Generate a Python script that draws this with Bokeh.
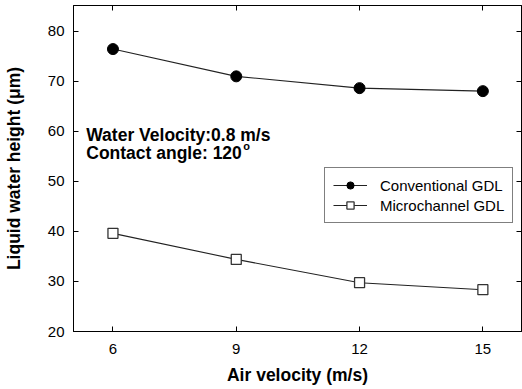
from bokeh.plotting import figure
from bokeh.models import LinearAxis, Range1d, Label, Legend, LegendItem, FixedTicker
from bokeh.embed import file_html
from bokeh.resources import INLINE

# ---- data ----
air_velocity = [6, 9, 12, 15]
conventional_gdl = [76.4, 70.95, 68.6, 68.0]
microchannel_gdl = [39.6, 34.4, 29.75, 28.35]
x_ticks = [6, 9, 12, 15]
y_ticks = [20, 30, 40, 50, 60, 70, 80]
series_names = ["Conventional GDL", "Microchannel GDL"]
note_lines = ["Water Velocity:0.8 m/s", "Contact angle: 120"]

FONT = "Liberation Sans"

p = figure(width=522, height=389, output_backend="svg", toolbar_location=None,
           x_range=Range1d(5.04, 15.94), y_range=Range1d(20, 85.1),
           min_border_left=72, min_border_right=1, min_border_top=5, min_border_bottom=58)
p.xgrid.visible = False
p.ygrid.visible = False
p.outline_line_color = "black"
p.background_fill_color = "white"

# bottom / left axes
for ax in (p.xaxis[0], p.yaxis[0]):
    ax.major_tick_in = 5
    ax.major_tick_out = 0
    ax.minor_tick_in = 0
    ax.minor_tick_out = 0
    ax.axis_line_color = "black"
    ax.major_tick_line_color = "black"
    ax.major_label_text_font = FONT
    ax.major_label_text_font_size = "15px"
    ax.major_label_text_color = "black"
    ax.axis_label_text_font = FONT
    ax.axis_label_text_font_size = "17.5px"
    ax.axis_label_text_font_style = "bold"
    ax.axis_label_text_color = "black"

p.xaxis[0].ticker = FixedTicker(ticks=x_ticks)
p.yaxis[0].ticker = FixedTicker(ticks=y_ticks)
p.xaxis[0].axis_label = "Air velocity (m/s)"
p.yaxis[0].axis_label = "Liquid water height (μm)"
p.xaxis[0].major_label_standoff = 12
p.xaxis[0].axis_label_standoff = 8
p.yaxis[0].major_label_standoff = 9
p.yaxis[0].axis_label_standoff = 21

# mirrored axes (ticks only, no labels)
for loc, ticks in (("above", x_ticks), ("right", y_ticks)):
    ax = LinearAxis(ticker=FixedTicker(ticks=ticks))
    ax.major_tick_in = 5
    ax.major_tick_out = 0
    ax.minor_tick_in = 0
    ax.minor_tick_out = 0
    ax.major_label_text_font_size = "0px"
    ax.major_label_text_color = None
    ax.major_label_standoff = 0
    ax.axis_line_color = "black"
    ax.major_tick_line_color = "black"
    p.add_layout(ax, loc)

# series
l1 = p.line(air_velocity, conventional_gdl, line_color="#222222", line_width=1.1)
s1 = p.scatter(air_velocity, conventional_gdl, marker="circle", size=11,
               fill_color="black", line_color="black")
l2 = p.line(air_velocity, microchannel_gdl, line_color="#222222", line_width=1.1)
s2 = p.scatter(air_velocity, microchannel_gdl, marker="square", size=10,
               fill_color="white", line_color="#333333", line_width=1.3)

legend = Legend(items=[LegendItem(label=series_names[0], renderers=[l1, s1]),
                       LegendItem(label=series_names[1], renderers=[l2, s2])],
                location=(251, 108), orientation="vertical")
legend.border_line_color = "black"
legend.border_line_width = 1
legend.background_fill_color = "white"
legend.background_fill_alpha = 1
legend.label_text_font = FONT
legend.label_text_font_size = "15px"
legend.label_text_color = "black"
legend.glyph_width = 34
legend.glyph_height = 18
legend.label_height = 18
legend.spacing = 2
legend.padding = 8
legend.margin = 0
legend.label_standoff = 13
p.add_layout(legend)

# annotation text
p.add_layout(Label(x=5.35, y=59.24, text=note_lines[0], text_font=FONT, text_baseline="alphabetic",
                   text_font_size="17.5px", text_font_style="bold", text_color="black"))
p.add_layout(Label(x=5.35, y=55.6, text=note_lines[1], text_font=FONT, text_baseline="alphabetic",
                   text_font_size="17.5px", text_font_style="bold", text_color="black"))
p.add_layout(Label(x=9.17, y=57.0, text="o", text_font=FONT, text_baseline="alphabetic",
                   text_font_size="11px", text_font_style="bold", text_color="black"))

open("out.html", "w").write(file_html(p, INLINE))
